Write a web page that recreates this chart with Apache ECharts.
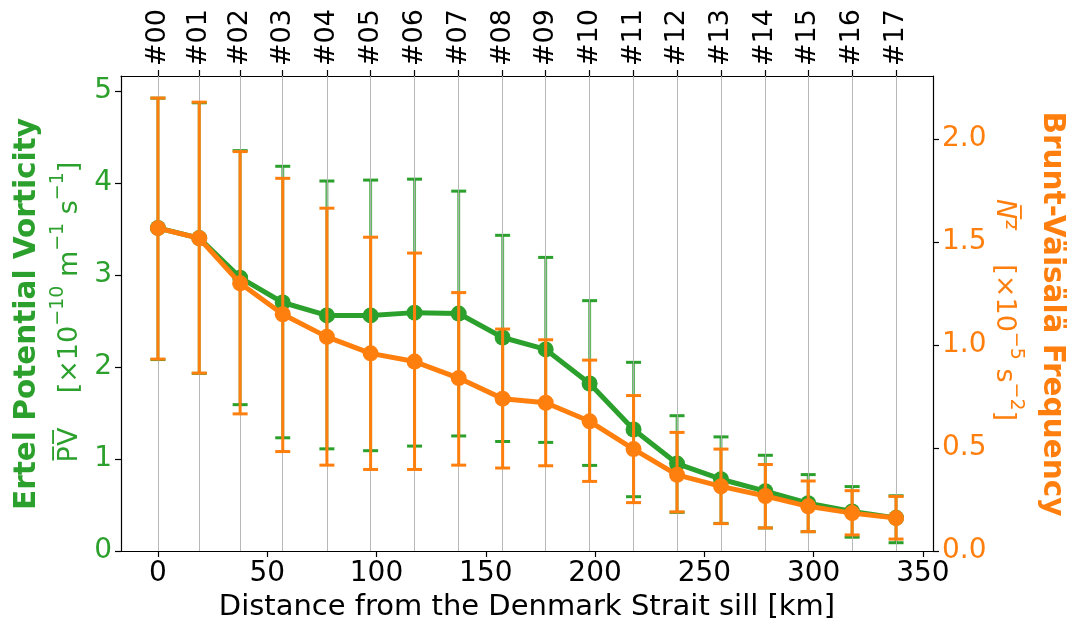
<!DOCTYPE html>
<html>
<head>
<meta charset="utf-8">
<script src="https://cdn.jsdelivr.net/npm/echarts@6/dist/echarts.min.js"></script>
<style>
html,body{margin:0;padding:0;background:#fff;}
#chart{width:1078px;height:627px;}
</style>
</head>
<body>
<div id="chart"></div>
<script>
// ---- data ----
const stationNames = ['#00','#01','#02','#03','#04','#05','#06','#07','#08','#09','#10','#11','#12','#13','#14','#15','#16','#17'];
const stationDist = [0, 18.9, 37.6, 57.1, 77.3, 97.3, 117.4, 137.6, 157.7, 177.4, 197.5, 217.6, 237.5, 257.6, 277.9, 297.5, 317.6, 337.7];
const pvMean  = [3.51, 3.40, 2.97, 2.70, 2.56, 2.56, 2.59, 2.58, 2.32, 2.19, 1.82, 1.32, 0.95, 0.78, 0.65, 0.52, 0.43, 0.36];
const pvUpper = [4.92, 4.87, 4.35, 4.18, 4.02, 4.03, 4.04, 3.91, 3.43, 3.19, 2.72, 2.05, 1.47, 1.24, 1.04, 0.83, 0.70, 0.60];
const pvLower = [2.08, 1.93, 1.59, 1.23, 1.11, 1.09, 1.14, 1.25, 1.19, 1.18, 0.93, 0.59, 0.42, 0.30, 0.25, 0.21, 0.15, 0.09];
const n2Mean  = [1.568, 1.519, 1.30, 1.15, 1.04, 0.96, 0.92, 0.84, 0.74, 0.72, 0.63, 0.495, 0.37, 0.314, 0.267, 0.217, 0.184, 0.16];
const n2Upper = [2.20, 2.18, 1.94, 1.81, 1.665, 1.524, 1.447, 1.255, 1.078, 1.026, 0.927, 0.755, 0.576, 0.495, 0.42, 0.34, 0.293, 0.265];
const n2Lower = [0.932, 0.864, 0.666, 0.483, 0.417, 0.396, 0.396, 0.417, 0.403, 0.414, 0.338, 0.235, 0.19, 0.133, 0.112, 0.094, 0.078, 0.058];
const xTicks  = [0, 50, 100, 150, 200, 250, 300, 350];
const pvTicks = [0, 1, 2, 3, 4, 5];
const n2Ticks = [0, 0.5, 1.0, 1.5, 2.0];

const GREEN = '#2ca02c', ORANGE = '#ff7f0e';
const FONT = 'DejaVu Sans';

const pvLine = stationDist.map((d, i) => [d, pvMean[i]]);
const n2Line = stationDist.map((d, i) => [d, n2Mean[i]]);
const pvErr = stationDist.map((d, i) => [d, pvLower[i], pvUpper[i]]);
const n2Err = stationDist.map((d, i) => [d, n2Lower[i], n2Upper[i]]);

function errRender(color, lw, capLw, alpha) {
  return function (params, api) {
    const x = api.value(0), lo = api.value(1), hi = api.value(2);
    const a = api.coord([x, lo]), b = api.coord([x, hi]);
    const hw = 7.5;
    return {
      type: 'group',
      children: [
        { type: 'line', shape: { x1: a[0], y1: a[1], x2: b[0], y2: b[1] }, style: { stroke: color, lineWidth: lw, opacity: alpha } },
        { type: 'line', shape: { x1: a[0] - hw, y1: a[1], x2: a[0] + hw, y2: a[1] }, style: { stroke: color, lineWidth: capLw } },
        { type: 'line', shape: { x1: b[0] - hw, y1: b[1], x2: b[0] + hw, y2: b[1] }, style: { stroke: color, lineWidth: capLw } }
      ]
    };
  };
}

const chart = echarts.init(document.getElementById('chart'), null, { renderer: 'canvas' });

const axisBlack = { show: true, onZero: false, lineStyle: { color: '#000', width: 1.2 } };
const tickBlack = { show: true, inside: false, length: 6, lineStyle: { color: '#000', width: 1.2 } };

// rich-text styles for the unit lines (base text + superscripts)
function unitRich(color) {
  return {
    b:  { font: '27px "DejaVu Sans"', fill: color, lineHeight: 34, verticalAlign: 'bottom' },
    it: { font: 'italic 27px "DejaVu Sans"', fill: color, lineHeight: 34, verticalAlign: 'bottom' },
    s:  { font: '19px "DejaVu Sans"', fill: color, lineHeight: 19, verticalAlign: 'top' }
  };
}

const option = {
  animation: false,
  backgroundColor: '#fff',
  grid: { left: 121, right: 145, top: 76, bottom: 76, containLabel: false },
  xAxis: [
    {
      type: 'value', position: 'bottom', min: -16.9, max: 354.6,
      axisLine: axisBlack, axisTick: Object.assign({ customValues: xTicks }, tickBlack),
      axisLabel: { customValues: xTicks, color: '#000', fontFamily: FONT, fontSize: 28, margin: 9 },
      splitLine: { show: false }
    },
    {
      type: 'value', position: 'top', min: -16.9, max: 354.6,
      axisLine: axisBlack, axisTick: Object.assign({ customValues: stationDist }, tickBlack),
      axisLabel: {
        customValues: stationDist, rotate: -90, color: '#000', fontFamily: FONT, fontSize: 27, margin: 10,
        formatter: function (v) { const i = stationDist.indexOf(v); return i >= 0 ? stationNames[i] : ''; }
      },
      splitLine: { show: false }
    }
  ],
  yAxis: [
    {
      type: 'value', position: 'left', min: 0, max: 5.161,
      axisLine: axisBlack, axisTick: Object.assign({ customValues: pvTicks }, tickBlack),
      axisLabel: { customValues: pvTicks, color: GREEN, fontFamily: FONT, fontSize: 28, margin: 9 },
      splitLine: { show: false }
    },
    {
      type: 'value', position: 'right', min: 0, max: 2.307,
      axisLine: axisBlack, axisTick: Object.assign({ customValues: n2Ticks }, tickBlack),
      axisLabel: { customValues: n2Ticks, color: ORANGE, fontFamily: FONT, fontSize: 28, margin: 9,
        formatter: function (v) { return v.toFixed(1); } },
      splitLine: { show: false }
    }
  ],
  series: [
    {
      type: 'custom', xAxisIndex: 0, yAxisIndex: 0, z: 2, silent: true,
      renderItem: errRender(GREEN, 3, 3, 0.75),
      encode: { x: 0, y: [1, 2] }, data: pvErr
    },
    {
      type: 'line', xAxisIndex: 0, yAxisIndex: 0, data: [], z: 3, silent: true,
      markLine: {
        silent: true, symbol: ['none', 'none'], label: { show: false },
        lineStyle: { color: '#b0b0b0', width: 1, type: 'solid', opacity: 0.9 },
        data: stationDist.map(d => ({ xAxis: d }))
      }
    },
    {
      type: 'line', xAxisIndex: 0, yAxisIndex: 0, z: 4, data: pvLine,
      symbol: 'circle', symbolSize: 16,
      lineStyle: { color: GREEN, width: 5 }, itemStyle: { color: GREEN }
    },
    {
      type: 'custom', xAxisIndex: 0, yAxisIndex: 1, z: 5, silent: true,
      renderItem: errRender(ORANGE, 3, 3, 1),
      encode: { x: 0, y: [1, 2] }, data: n2Err
    },
    {
      type: 'line', xAxisIndex: 0, yAxisIndex: 1, z: 6, data: n2Line,
      symbol: 'circle', symbolSize: 16,
      lineStyle: { color: ORANGE, width: 5 }, itemStyle: { color: ORANGE }
    }
  ],
  graphic: [
    { type: 'text', x: 27, y: 314, rotation: Math.PI / 2,
      style: { text: 'Ertel Potential Vorticity', fill: GREEN, font: 'bold 29.5px "DejaVu Sans"', align: 'center', verticalAlign: 'middle' } },
    { type: 'text', x: 66, y: 312, rotation: Math.PI / 2,
      style: { text: '{b|P\u0305V\u0305    [\u00d710}{s|\u221210}{b| m}{s|\u22121}{b| s}{s|\u22121}{b|]}',
        align: 'center', verticalAlign: 'middle', rich: unitRich(GREEN) } },
    { type: 'text', x: 1052, y: 314, rotation: -Math.PI / 2,
      style: { text: 'Brunt-V\u00e4is\u00e4l\u00e4 Frequency', fill: ORANGE, font: 'bold 29.5px "DejaVu Sans"', align: 'center', verticalAlign: 'middle' } },
    { type: 'text', x: 1008, y: 310, rotation: -Math.PI / 2,
      style: { text: '{it|N\u0305}{b|\u00b2\u0305    [\u00d710}{s|\u22125}{b| s}{s|\u22122}{b|]}',
        align: 'center', verticalAlign: 'middle', rich: unitRich(ORANGE) } },
    { type: 'text', x: 527, y: 607,
      style: { text: 'Distance from the Denmark Strait sill [km]', fill: '#000', font: '29px "DejaVu Sans"', align: 'center', verticalAlign: 'middle' } }
  ]
};
chart.setOption(option);
</script>
</body>
</html>
